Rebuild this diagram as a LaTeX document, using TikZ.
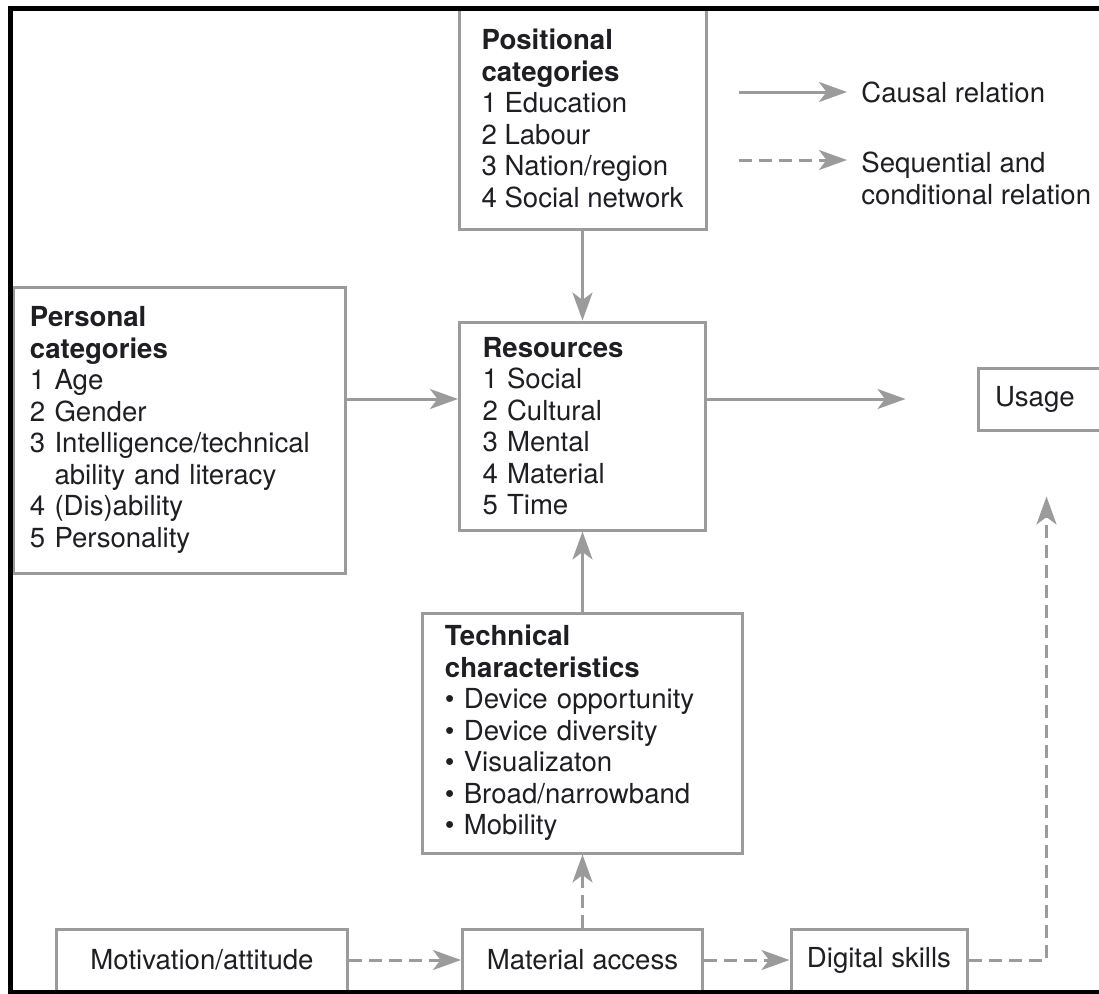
\documentclass[tikz,border=0pt]{standalone}
\usepackage{fontspec}
\setmainfont{TeX Gyre Heros}
\usetikzlibrary{positioning,arrows.meta}
\usepackage{xcolor}
\definecolor{LineGrey}{RGB}{155,155,155}
\definecolor{InkDark}{RGB}{30,30,35}
\newcommand{\boxfont}{\fontsize{15.7}{17.9}\selectfont}

\begin{document}
\begin{tikzpicture}[
x=0.2mm, y=-0.2mm,
catbox/.style={
    rectangle,
    draw=LineGrey,
    line width=0.6mm,
    fill=white,
    align=left,
    inner ysep=0pt,
    text=InkDark,
    font=\boxfont
},
stagebox/.style={
    rectangle,
    draw=LineGrey,
    line width=0.6mm,
    fill=white,
    minimum height=12.4mm,
    inner sep=0pt,
    text=InkDark,
    font=\boxfont
},
legendtext/.style={align=left,inner ysep=0pt,inner xsep=2.8mm,text=InkDark,font=\boxfont},
arrow/.style={-{Stealth[length=5.6mm,width=4mm,inset=1.5mm]},line width=0.6mm,draw=LineGrey},
dasharrow/.style={arrow,dash pattern=on 2.6mm off 1.4mm}
]

\useasboundingbox (0,0) rectangle (1099,994);
\clip (0,0) rectangle (1099,994);

% category and resource boxes
\node[catbox,minimum width=49.4mm,minimum height=44.2mm] (posit) at (582.5,118.5)
    {\textbf{Positional}\\\textbf{categories}\\1 Education\\2 Labour\\3 Nation/region\\4 Social network};
\node[catbox,text width=59.8mm,inner xsep=3.2mm,minimum height=57.2mm] (personal) at (179.5,430)
    {\textbf{Personal}\\\textbf{categories}\\1 Age\\2 Gender\\3 Intelligence/technical\\\hphantom{3}~ability and literacy\\4 (Dis)ability\\5 Personality};
\node[catbox,text width=40mm,inner xsep=4.6mm,minimum height=41.6mm] (res) at (582.5,426)
    {\textbf{Resources}\\1 Social\\2 Cultural\\3 Mental\\4 Material\\5 Time};
\node[catbox,text width=55mm,inner xsep=4.4mm,minimum height=48mm] (tech) at (582.5,733)
    {\textbf{Technical}\\\textbf{characteristics}\\\textbullet\ Device opportunity\\\textbullet\ Device diversity\\\textbullet\ Visualizaton\\\textbullet\ Broad/narrowband\\\textbullet\ Mobility};
\node[catbox,text width=20.6mm,inner xsep=3.4mm,minimum height=12.4mm] (usage) at (1046.5,399) {Usage};

% access stages along the bottom
\node[stagebox,minimum width=58mm] (motiv) at (202,960) {Motivation/attitude};
\node[stagebox,minimum width=48mm] (material) at (582.5,960) {Material access};
\node[stagebox,minimum width=35.2mm] (skills) at (879,960) {Digital skills};

\coordinate[left=14.2mm of usage] (resout);
\coordinate[below=13mm of usage] (usagein);

\draw[arrow] (posit) -- (res);
\draw[arrow] (personal.east |- usage) -- (res.west |- usage);
\draw[arrow] (res.east |- usage) -- (resout);
\draw[arrow] (tech) -- (res);
\draw[dasharrow] (material) -- (tech);
\draw[dasharrow] (motiv) -- (material);
\draw[dasharrow] (material) -- (skills);
\draw[dasharrow] (skills) -| (usagein);

% legend
\node[legendtext,anchor=west] (causal) at (847,92) {Causal relation};
\node[legendtext,anchor=north west] (seq) at (847,152) {Sequential and\\conditional relation};
\coordinate (causaltail) at (739,92);
\coordinate (seqtail) at (739,160);
\draw[arrow] (causaltail) -- (causal);
\draw[dasharrow] (seqtail) -- (seqtail -| seq.west);

% frame
\draw[line width=1mm,black] (10,8) rectangle (1130,992);

\end{tikzpicture}
\end{document}
